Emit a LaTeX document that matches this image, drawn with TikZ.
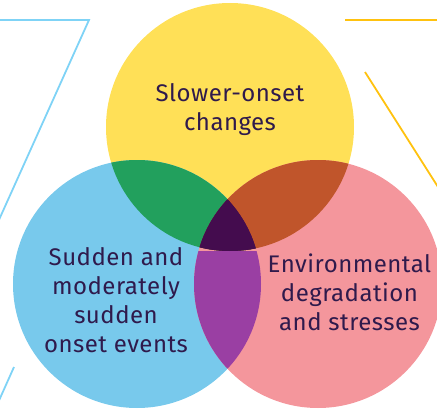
\documentclass[tikz,border=0pt]{standalone}
\usepackage{fontspec}
\setmainfont[LetterSpace=2]{Fira Sans}
\usepackage{xcolor}
\usetikzlibrary{positioning}

\definecolor{slowyellow}{HTML}{FFE057}
\definecolor{suddenblue}{HTML}{78C9EC}
\definecolor{degradpink}{HTML}{F4969C}
\definecolor{mixgreen}{HTML}{22A05D}
\definecolor{mixorange}{HTML}{C0552B}
\definecolor{mixpurple}{HTML}{9A3FA3}
\definecolor{mixcore}{HTML}{440C4E}
\definecolor{inktext}{HTML}{2F1A4C}
\definecolor{decoblue}{HTML}{7FD3F6}
\definecolor{decoyellow}{HTML}{FFC20F}

\begin{document}
\begin{tikzpicture}[
    x=1pt, y=-1pt,
    circletext/.style={align=center, text=inktext, font=\fontsize{24}{29}\selectfont},
    decoline/.style={line width=1.8pt}
]
\useasboundingbox (0,0) rectangle (437,412);

\draw[decoline, decoblue] (-2,20) -- (89,20) -- (-2,222);
\draw[decoline, decoblue] (14,367) -- (-3,405);
\draw[decoline, decoyellow] (345,20) -- (440,20);
\draw[decoline, decoyellow] (365,72) -- (445,198);

\coordinate (slow) at (230,127);
\coordinate (sudden) at (137,284);
\coordinate (degrad) at (318,284);

\fill[slowyellow] (slow) circle (124pt);
\fill[suddenblue] (sudden) circle (124pt);
\fill[degradpink] (degrad) circle (124pt);

\begin{scope}
  \clip (slow) circle (124pt);
  \fill[mixgreen] (sudden) circle (124pt);
  \fill[mixorange] (degrad) circle (124pt);
  \clip (sudden) circle (124pt);
  \fill[mixcore] (degrad) circle (124pt);
\end{scope}
\begin{scope}
  \clip (sudden) circle (124pt);
  \clip (degrad) circle (124pt);
  \fill[mixpurple] (slow) ++(0,124) ++(-130,0) rectangle ++(260,300);
  \clip (slow) circle (124pt);
  \fill[mixcore] (slow) circle (124pt);
\end{scope}

\node[circletext] (slowtext) at (230,110) {Slower-onset\\changes};
\node[circletext] (suddentext) at (116,300) {Sudden and\\moderately\\sudden\\onset events};
\node[circletext] (degradtext) at (349.5,292) {Environmental\\degradation\\and stresses};
\end{tikzpicture}
\end{document}
